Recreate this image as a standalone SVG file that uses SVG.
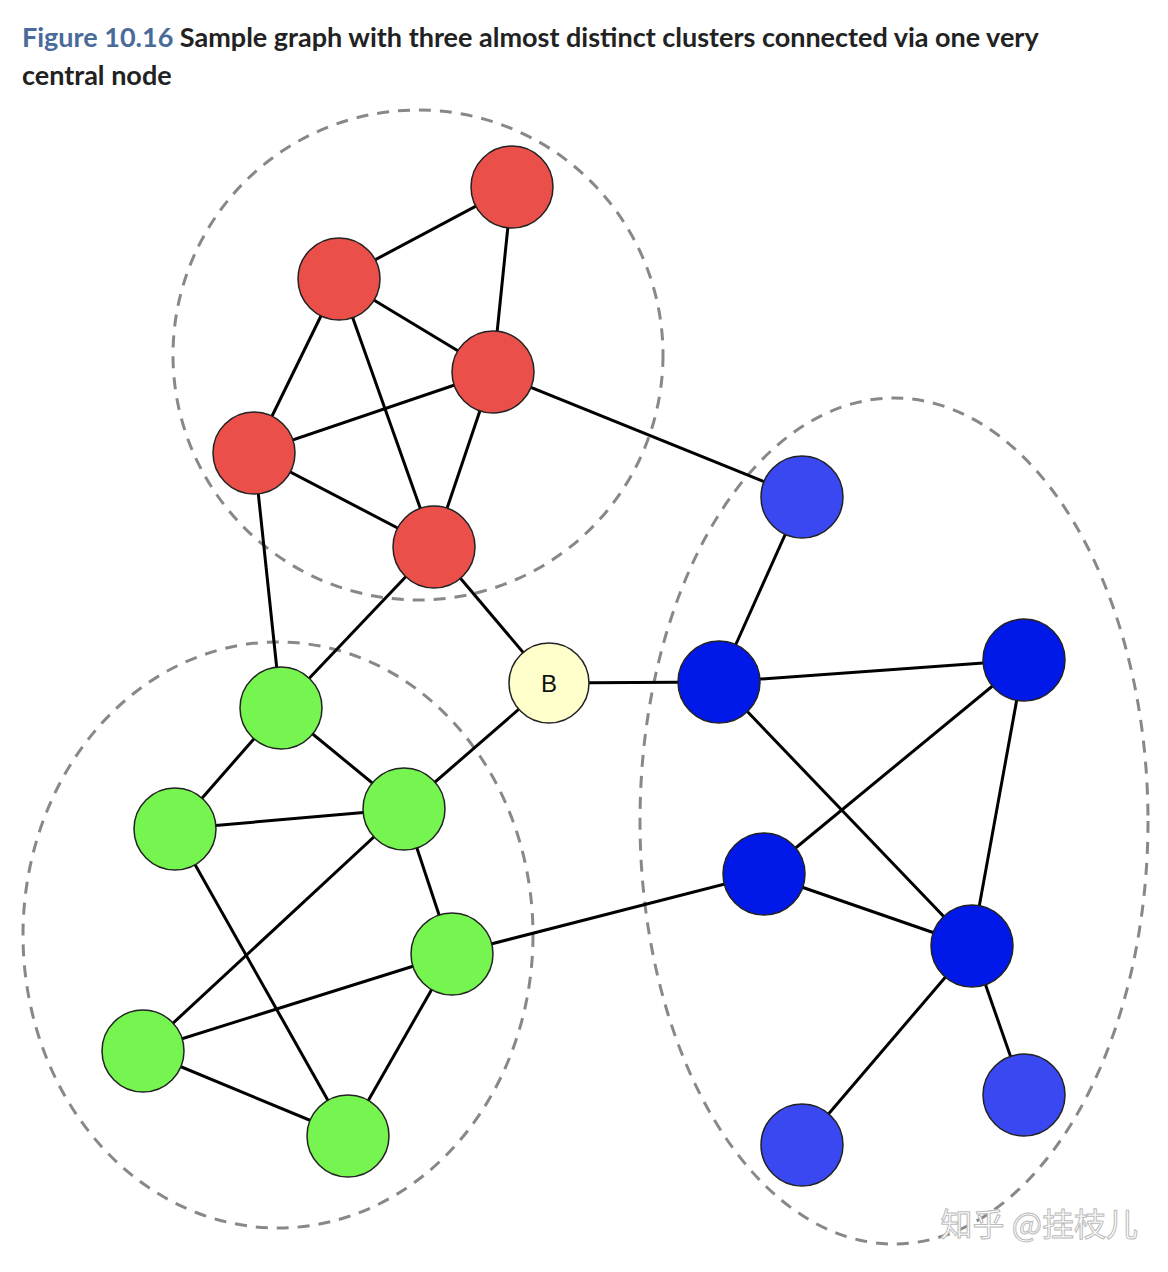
<svg xmlns="http://www.w3.org/2000/svg" width="1168" height="1272" viewBox="0 0 1168 1272">
<style>
.t{font-family:Lato,"Open Sans",sans-serif;font-size:27px;font-weight:bold;fill:#222}
.cl{fill:none;stroke:#888;stroke-width:3;stroke-dasharray:12 9}
.e line{stroke:#000;stroke-width:3}
.r{fill:#eb4f4a;stroke:#222;stroke-width:1.5}
.g{fill:#76f550;stroke:#222;stroke-width:1.5}
.b{fill:#0019e8;stroke:#222;stroke-width:1.5}
.lb{fill:#3a48f2;stroke:#222;stroke-width:1.5}
</style>
<rect width="1168" height="1272" fill="#fff"/>
<text x="22" y="47" class="t"><tspan fill="#4a6b9a">Figure 10.16</tspan> Sample graph with three almost distinct clusters connected via one very</text>
<text x="22" y="85" class="t">central node</text>
<g id="clusters">
<circle class="cl" cx="418" cy="355" r="245"/>
<ellipse class="cl" cx="278" cy="935" rx="255" ry="293"/>
<ellipse class="cl" cx="894" cy="821" rx="254" ry="423"/>
</g>
<g id="edges" class="e">
<line x1="339" y1="279" x2="512" y2="187"/><line x1="512" y1="187" x2="493" y2="372"/>
<line x1="339" y1="279" x2="493" y2="372"/><line x1="339" y1="279" x2="254" y2="453"/>
<line x1="339" y1="279" x2="434" y2="547"/><line x1="254" y1="453" x2="493" y2="372"/>
<line x1="493" y1="372" x2="434" y2="547"/><line x1="254" y1="453" x2="434" y2="547"/>
<line x1="493" y1="372" x2="802" y2="497"/><line x1="254" y1="453" x2="281" y2="708"/>
<line x1="434" y1="547" x2="281" y2="708"/><line x1="434" y1="547" x2="549" y2="683"/>
<line x1="549" y1="683" x2="404" y2="809"/><line x1="549" y1="683" x2="719" y2="682"/>
<line x1="281" y1="708" x2="175" y2="829"/><line x1="281" y1="708" x2="404" y2="809"/>
<line x1="175" y1="829" x2="404" y2="809"/><line x1="175" y1="829" x2="348" y2="1136"/>
<line x1="404" y1="809" x2="143" y2="1051"/><line x1="404" y1="809" x2="452" y2="954"/>
<line x1="452" y1="954" x2="143" y2="1051"/><line x1="452" y1="954" x2="348" y2="1136"/>
<line x1="143" y1="1051" x2="348" y2="1136"/><line x1="452" y1="954" x2="764" y2="874"/>
<line x1="802" y1="497" x2="719" y2="682"/><line x1="719" y1="682" x2="1024" y2="660"/>
<line x1="719" y1="682" x2="972" y2="946"/><line x1="1024" y1="660" x2="764" y2="874"/>
<line x1="1024" y1="660" x2="972" y2="946"/><line x1="764" y1="874" x2="972" y2="946"/>
<line x1="972" y1="946" x2="1024" y2="1095"/><line x1="972" y1="946" x2="802" y2="1145"/>
</g>
<g id="r1"><circle class="r" cx="512" cy="187" r="41"/></g>
<g id="r2"><circle class="r" cx="339" cy="279" r="41"/></g>
<g id="r3"><circle class="r" cx="493" cy="372" r="41"/></g>
<g id="r4"><circle class="r" cx="254" cy="453" r="41"/></g>
<g id="r5"><circle class="r" cx="434" cy="547" r="41"/></g>
<g id="nB"><circle cx="549" cy="683" r="40" fill="#ffffcc" stroke="#222" stroke-width="1.5"/><text x="549" y="692" text-anchor="middle" font-family="Liberation Sans,sans-serif" font-size="24" fill="#111">B</text></g>
<g id="g1"><circle class="g" cx="281" cy="708" r="41"/></g>
<g id="g2"><circle class="g" cx="175" cy="829" r="41"/></g>
<g id="g3"><circle class="g" cx="404" cy="809" r="41"/></g>
<g id="g4"><circle class="g" cx="452" cy="954" r="41"/></g>
<g id="g5"><circle class="g" cx="143" cy="1051" r="41"/></g>
<g id="g6"><circle class="g" cx="348" cy="1136" r="41"/></g>
<g id="b1"><circle class="lb" cx="802" cy="497" r="41"/></g>
<g id="b2"><circle class="b" cx="719" cy="682" r="41"/></g>
<g id="b3"><circle class="b" cx="1024" cy="660" r="41"/></g>
<g id="b4"><circle class="b" cx="764" cy="874" r="41"/></g>
<g id="b5"><circle class="b" cx="972" cy="946" r="41"/></g>
<g id="b6"><circle class="lb" cx="1024" cy="1095" r="41"/></g>
<g id="b7"><circle class="lb" cx="802" cy="1145" r="41"/></g>
<text x="1138" y="1236" text-anchor="end" font-family="Noto Sans CJK SC,sans-serif" font-size="32" fill="#fff" stroke="#bbb" stroke-width="1">知乎 @挂枝儿</text>
</svg>
